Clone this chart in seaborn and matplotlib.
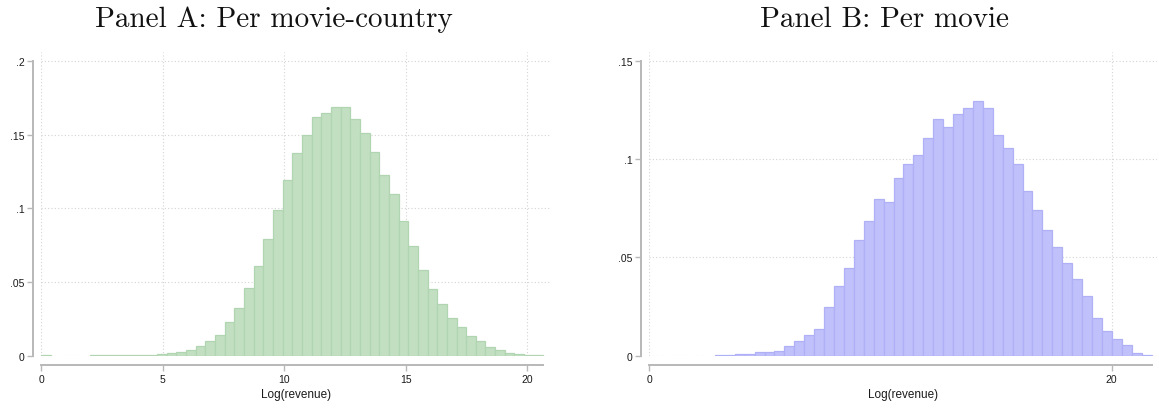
import numpy as np
import pandas as pd
import matplotlib
matplotlib.use("Agg")
import matplotlib.pyplot as plt
import seaborn as sns

# Density of log revenue, one value per histogram bin
a_start, a_width = 0.0, 0.3973
a_density = [
    0.0004, 0.0, 0.0, 0.0, 0.0, 0.0003, 0.0003, 0.0003, 0.0004, 0.0005,
    0.0006, 0.0008, 0.0011, 0.0018, 0.0025, 0.0038, 0.0063, 0.0097, 0.0138, 0.0226,
    0.0321, 0.0456, 0.0606, 0.0789, 0.0985, 0.1190, 0.1374, 0.1500, 0.1620, 0.1645,
    0.1690, 0.1684, 0.1605, 0.1514, 0.1380, 0.1229, 0.1100, 0.0911, 0.0744, 0.0579,
    0.0450, 0.0348, 0.0253, 0.0192, 0.0131, 0.0097, 0.0061, 0.0038, 0.0020, 0.0011,
    0.0007, 0.0005,
]

b_start, b_width = 2.84, 0.4293
b_density = [
    0.0002, 0.0005, 0.0008, 0.0008, 0.0019, 0.0020, 0.0024, 0.0047, 0.0073, 0.0105,
    0.0136, 0.0247, 0.0354, 0.0446, 0.0586, 0.0683, 0.0797, 0.0781, 0.0902, 0.0973,
    0.1019, 0.1105, 0.1202, 0.1161, 0.1231, 0.1258, 0.1293, 0.1258, 0.1120, 0.1054,
    0.0973, 0.0836, 0.0739, 0.0639, 0.0551, 0.0471, 0.0388, 0.0302, 0.0190, 0.0127,
    0.0085, 0.0056, 0.0014, 0.0005,
]

a_title = "Panel A: Per movie-country"
b_title = "Panel B: Per movie"
x_label = "Log(revenue)"

a_xticks = [0, 5, 10, 15, 20]
a_yticks = [0, 0.05, 0.1, 0.15, 0.2]
a_yticklabels = ["0", ".05", ".1", ".15", ".2"]
b_xticks = [0, 20]
b_yticks = [0, 0.05, 0.1, 0.15]
b_yticklabels = ["0", ".05", ".1", ".15"]

sns.set_theme(style="white")
plt.rcParams["font.family"] = ["Liberation Sans", "DejaVu Sans"]

fig = plt.figure(figsize=(11.59, 4.10), dpi=100)
ax_a = fig.add_axes([0.0356, 0.130, 0.4398, 0.7407])
ax_b = fig.add_axes([0.5602, 0.130, 0.4380, 0.7407])

AXIS_GREY = "#b8b8b8"


def draw_panel(ax, start, width, density, fill, edge, xticks, yticks, yticklabels,
               xlim, ylim):
    density = np.asarray(density, dtype=float)
    n = len(density)
    stop = start + width * n
    centers = start + width * (np.arange(n) + 0.5)
    df = pd.DataFrame({"logrev": centers, "density": density})
    sns.histplot(data=df, x="logrev", weights="density", binwidth=width,
                 binrange=(start, stop), stat="count",
                 color=fill, edgecolor=edge, linewidth=0.9, alpha=1.0, ax=ax)
    # empty bins leave no outline
    for patch in ax.patches:
        if patch.get_height() <= 0:
            patch.set_visible(False)
    ax.set_xlim(*xlim)
    ax.set_ylim(*ylim)
    ax.set_xticks(xticks)
    ax.set_xticklabels([str(t) for t in xticks])
    ax.set_yticks(yticks)
    ax.set_yticklabels(yticklabels)
    ax.set_axisbelow(True)
    ax.grid(True, linestyle=(0, (1, 2)), color="#d4d4d4", linewidth=0.8)
    sns.despine(ax=ax, offset={"left": 6, "bottom": 7})
    for side in ("left", "bottom"):
        ax.spines[side].set_color(AXIS_GREY)
        ax.spines[side].set_linewidth(1.4)
    ax.spines["left"].set_bounds(yticks[0], yticks[-1])
    ax.spines["bottom"].set_bounds(min(start, xticks[0]), stop)
    ax.tick_params(axis="both", which="major", bottom=True, left=True,
                   direction="out", length=4, width=1.0,
                   color=AXIS_GREY, labelsize=7.5, labelcolor="#1a1a1a", pad=2)
    ax.set_xlabel(x_label, fontsize=8.5, color="#1a1a1a", labelpad=3)
    ax.set_ylabel("")


draw_panel(ax_a, a_start, a_width, a_density, "#c2dfc2", "#b0d5b0",
           a_xticks, a_yticks, a_yticklabels, (0, 20.97), (0, 0.206))
draw_panel(ax_b, b_start, b_width, b_density, "#c0c0fb", "#b0b0f6",
           b_xticks, b_yticks, b_yticklabels, (0, 21.96), (0, 0.1544))

fig.text(273.5 / 1159, 1 - 20 / 410, a_title, family="cmr10", fontsize=21,
         ha="center", va="center", color="#111111")
fig.text(885 / 1159, 1 - 20 / 410, b_title, family="cmr10", fontsize=21,
         ha="center", va="center", color="#111111")

fig.savefig("out.png", dpi=100)
